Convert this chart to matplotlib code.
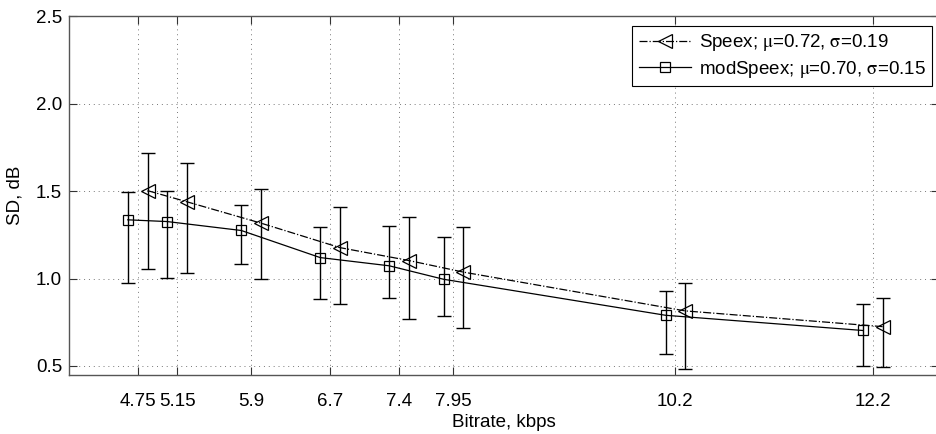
import matplotlib.pyplot as plt

plt.rcParams['font.family'] = ['Liberation Sans', 'DejaVu Sans']
plt.rcParams['mathtext.fontset'] = 'stix'
plt.rcParams['mathtext.default'] = 'rm'

bitrates = [4.75, 5.15, 5.9, 6.7, 7.4, 7.95, 10.2, 12.2]
tick_labels = ['4.75', '5.15', '5.9', '6.7', '7.4', '7.95', '10.2', '12.2']

# Speex: mean SD and error bar ends
speex = [1.503, 1.439, 1.317, 1.177, 1.103, 1.037, 0.815, 0.725]
speex_hi = [1.717, 1.662, 1.511, 1.408, 1.351, 1.297, 0.974, 0.890]
speex_lo = [1.054, 1.031, 1.000, 0.854, 0.771, 0.720, 0.482, 0.495]

# modSpeex
mod = [1.336, 1.326, 1.275, 1.120, 1.073, 0.996, 0.790, 0.703]
mod_hi = [1.494, 1.503, 1.423, 1.294, 1.301, 1.235, 0.928, 0.853]
mod_lo = [0.975, 1.004, 1.084, 0.882, 0.891, 0.788, 0.567, 0.500]

shift = 0.1  # the two series are drawn slightly apart around each tick
fs = 13.5

fig = plt.figure(figsize=(9.36, 4.34), dpi=100)
# right spine sits just past the image edge, as in the original crop
ax = fig.add_axes([0.0737, 0.1366, 0.9295, 0.8258])

xs = [b + shift for b in bitrates]
xm = [b - shift for b in bitrates]

ax.errorbar(xs, speex,
            yerr=[[m - l for m, l in zip(speex, speex_lo)], [h - m for m, h in zip(speex, speex_hi)]],
            fmt='none', ecolor='black', elinewidth=1, capsize=5, capthick=1)
ax.errorbar(xm, mod,
            yerr=[[m - l for m, l in zip(mod, mod_lo)], [h - m for m, h in zip(mod, mod_hi)]],
            fmt='none', ecolor='black', elinewidth=1, capsize=5, capthick=1)

ax.plot(xs, speex, color='black', linestyle='-.', linewidth=0.9, marker='<',
        markersize=10, markerfacecolor='none', markeredgecolor='black', markeredgewidth=0.9,
        label=r'Speex; $\mu$=0.72, $\sigma$=0.19')
ax.plot(xm, mod, color='black', linestyle='-', linewidth=0.9, marker='s',
        markersize=7, markerfacecolor='none', markeredgecolor='black', markeredgewidth=0.9,
        label=r'modSpeex; $\mu$=0.70, $\sigma$=0.15')

ax.set_xlim(4.054, 12.872)
ax.set_ylim(0.45, 2.5)
ax.set_xticks(bitrates)
ax.set_xticklabels(tick_labels)
ax.set_yticks([0.5, 1.0, 1.5, 2.0, 2.5])
ax.set_yticklabels(['0.5', '1.0', '1.5', '2.0', '2.5'])
ax.tick_params(direction='in', top=True, right=True, labelsize=fs, length=6,
               width=0.8, color='#333333')
ax.tick_params(axis='x', pad=13)
ax.tick_params(axis='y', pad=5)
ax.grid(True, linestyle=(0, (1, 4)), color='#777777', linewidth=0.7)
for s in ax.spines.values():
    s.set_color('#555555')
    s.set_linewidth(1.0)

ax.set_xlabel('Bitrate, kbps', fontsize=fs, labelpad=3)
ax.set_ylabel('SD, dB', fontsize=fs, labelpad=9)

leg = ax.legend(loc='upper right', bbox_to_anchor=(0.992, 0.974), borderaxespad=0,
                fontsize=fs, frameon=True, fancybox=False,
                edgecolor='black', framealpha=1,
                handlelength=2.8, handletextpad=0.4, borderpad=0.35, labelspacing=0.3)
leg.get_frame().set_linewidth(0.8)

fig.savefig('out.png', dpi=100)
